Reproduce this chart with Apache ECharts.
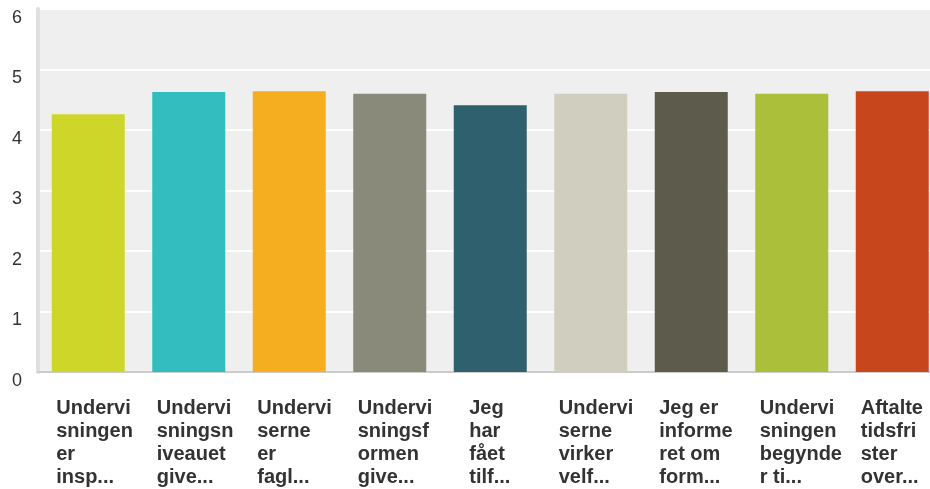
<!DOCTYPE html>
<html>
<head>
<meta charset="utf-8">
<script src="https://cdn.jsdelivr.net/npm/echarts@6/dist/echarts.min.js"></script>
<style>
  html, body { margin: 0; padding: 0; background: #fff; }
  #chart { width: 930px; height: 489px; }
</style>
</head>
<body>
<div id="chart"></div>
<script>
  // category labels, already broken into lines like the original
  var categories = [
    ['Undervi', 'sningen', 'er', 'insp...'],
    ['Undervi', 'sningsn', 'iveauet', 'give...'],
    ['Undervi', 'serne', 'er', 'fagl...'],
    ['Undervi', 'sningsf', 'ormen', 'give...'],
    ['Jeg', 'har', 'fået', 'tilf...'],
    ['Undervi', 'serne', 'virker', 'velf...'],
    ['Jeg er', 'informe', 'ret om', 'form...'],
    ['Undervi', 'sningen', 'begynde', 'r ti...'],
    ['Aftalte', 'tidsfri', 'ster', 'over...']
  ]
  var values = [4.26, 4.63, 4.64, 4.6, 4.41, 4.6, 4.63, 4.6, 4.64]
  var barColors = ['#cfd62a', '#34bdbf', '#f6ae21', '#898a7a', '#2f606d',
                   '#cfcebf', '#5c5b4c', '#abbf3b', '#c8461c']

  var labelFont = 'bold 20px "Liberation Sans", Arial, sans-serif'

  // label blocks are at most 64px wide, narrower ones get centred
  var ctx = document.createElement('canvas').getContext('2d')
  ctx.font = labelFont
  function blockWidth(lines) {
    var w = 0
    lines.forEach(function (l) { w = Math.max(w, ctx.measureText(l).width) })
    return Math.min(64, Math.ceil(w))
  }

  var chart = echarts.init(document.getElementById('chart'))

  var option = {
    animation: false,
    grid: {
      left: 38,
      right: -12.5,
      top: 9,
      bottom: 117,
      outerBoundsMode: 'none',
      show: true,
      backgroundColor: '#efefef',
      borderWidth: 0
    },
    xAxis: {
      type: 'category',
      data: categories.map(function (c) {
        return { value: c.join('\n'), textStyle: { width: blockWidth(c) } }
      }),
      axisTick: { show: false },
      axisLine: { lineStyle: { color: '#cccccc', width: 2 } },
      axisLabel: {
        interval: 0,
        margin: 25,
        width: 64,
        overflow: 'none',
        align: 'center',
        formatter: function (v) {
          return v.split('\n').map(function (l) { return '{a|' + l + '}' }).join('\n')
        },
        rich: {
          a: {
            align: 'left',
            fontFamily: '"Liberation Sans", Arial, sans-serif',
            fontWeight: 'bold',
            fontSize: 20,
            lineHeight: 23,
            color: '#333'
          }
        }
      }
    },
    yAxis: {
      type: 'value',
      min: 0,
      max: 6,
      interval: 1,
      axisLine: { show: true, lineStyle: { color: '#dfdfdf', width: 4 } },
      axisTick: { show: false },
      splitLine: { lineStyle: { color: '#ffffff', width: 2 } },
      axisLabel: {
        margin: 16,
        verticalAlign: 'top',
        fontFamily: '"Liberation Sans", Arial, sans-serif',
        fontSize: 18,
        color: '#333'
      }
    },
    series: [{
      type: 'bar',
      barWidth: 73,
      data: values.map(function (v, i) {
        return { value: v, itemStyle: { color: barColors[i] } }
      })
    }]
  }

  chart.setOption(option)
</script>
</body>
</html>
